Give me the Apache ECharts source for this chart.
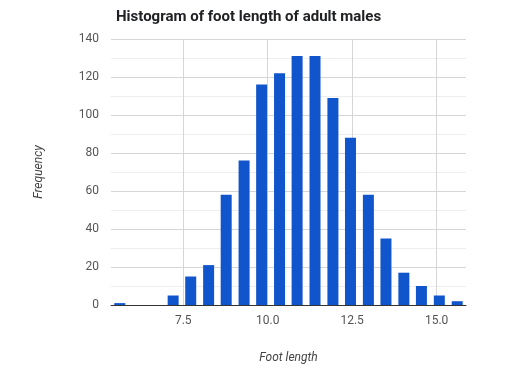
<!DOCTYPE html>
<html>
<head>
<meta charset="utf-8">
<script src="https://cdn.jsdelivr.net/npm/echarts@6/dist/echarts.min.js"></script>
<style>html,body{margin:0;padding:0;background:#fff}#c{width:512px;height:375px}</style>
</head>
<body>
<div id="c"></div>
<script>
// Bucket centres (foot length) and frequencies
const bucketCenters = [5.62, 6.15, 6.67, 7.20, 7.72, 8.25, 8.77, 9.30, 9.82, 10.35, 10.87, 11.40, 11.93, 12.45, 12.98, 13.50, 14.03, 14.55, 15.08, 15.61];
const frequencies = [1, 0, 0, 5, 15, 21, 58, 76, 116, 122, 131, 131, 109, 88, 58, 35, 17, 10, 5, 2];
const xTicks = [7.5, 10.0, 12.5, 15.0];
const xRange = [5.36, 15.87];
const yTicks = [0, 20, 40, 60, 80, 100, 120, 140];

const chart = echarts.init(document.getElementById('c'), null, {renderer: 'canvas'});
chart.setOption({
  animation: false,
  backgroundColor: '#ffffff',
  title: {
    text: 'Histogram of foot length of adult males',
    left: 111, top: 5,
    textStyle: {fontFamily: 'Roboto', fontWeight: 'bold', fontSize: 15, color: '#202124'}
  },
  grid: {left: 111, right: 46, top: 39, bottom: 70, containLabel: false},
  xAxis: {
    type: 'value',
    min: xRange[0], max: xRange[1],
    name: 'Foot length',
    nameLocation: 'middle', nameGap: 47,
    nameTextStyle: {fontFamily: 'Roboto', fontStyle: 'italic', fontSize: 12, color: '#444'},
    axisLine: {show: true, lineStyle: {color: '#333', width: 1}},
    axisTick: {show: false, customValues: xTicks},
    axisLabel: {customValues: xTicks, fontFamily: 'Roboto', fontSize: 12, color: '#555', margin: 10,
      formatter: v => v.toFixed(1)},
    splitLine: {show: true, lineStyle: {color: '#d6d6d6'}}
  },
  yAxis: {
    type: 'value',
    min: 0, max: yTicks[yTicks.length - 1], interval: 20,
    name: 'Frequency',
    nameLocation: 'middle', nameGap: 66, nameRotate: 90,
    nameTextStyle: {fontFamily: 'Roboto', fontStyle: 'italic', fontSize: 12, color: '#444'},
    axisLine: {show: false},
    axisTick: {show: false},
    axisLabel: {fontFamily: 'Roboto', fontSize: 12, color: '#555', margin: 12},
    splitLine: {show: true, lineStyle: {color: '#d6d6d6'}},
    minorTick: {show: false, splitNumber: 2},
    minorSplitLine: {show: true, lineStyle: {color: '#eeeeee'}}
  },
  series: [{
    type: 'bar',
    data: bucketCenters.map((x, i) => [x, frequencies[i]]),
    barWidth: 11,
    itemStyle: {color: '#1155cc'},
    z: 3
  }]
});
</script>
</body>
</html>
